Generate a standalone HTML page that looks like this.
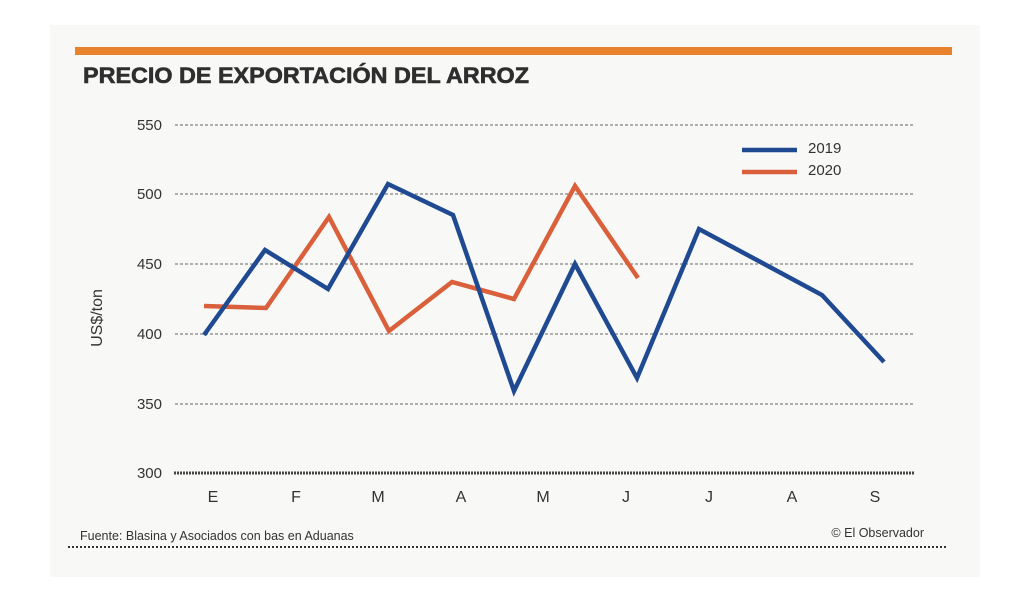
<!DOCTYPE html>
<html><head><meta charset="utf-8"><style>
body{margin:0;background:#fff;}
</style></head><body>
<svg width="1024" height="597" xmlns="http://www.w3.org/2000/svg" font-family="Liberation Sans, sans-serif">
<rect x="50" y="25" width="930" height="552" fill="#f8f8f7"/>
<rect x="75" y="47" width="877" height="8" fill="#e8822c"/>
<text x="83" y="83" font-size="22" font-weight="bold" fill="#2e2e2e" textLength="446" lengthAdjust="spacingAndGlyphs" stroke="#2e2e2e" stroke-width="0.6">PRECIO DE EXPORTACIÓN DEL ARROZ</text>
<g stroke="#666" stroke-width="1" stroke-dasharray="3,2">
<line x1="175" y1="125" x2="915" y2="125"/>
<line x1="175" y1="194" x2="915" y2="194"/>
<line x1="175" y1="264" x2="915" y2="264"/>
<line x1="175" y1="334" x2="915" y2="334"/>
<line x1="175" y1="404" x2="915" y2="404"/>
</g>
<line x1="174" y1="473" x2="915" y2="473" stroke="#444" stroke-width="3" stroke-dasharray="2,1"/>
<g font-size="15" fill="#333" text-anchor="end">
<text x="162" y="130">550</text><text x="162" y="199">500</text><text x="162" y="269">450</text>
<text x="162" y="339">400</text><text x="162" y="409">350</text><text x="162" y="478">300</text>
</g>
<text transform="translate(102,318) rotate(-90)" font-size="16" fill="#333" text-anchor="middle">US$/ton</text>
<g font-size="16" fill="#333" text-anchor="middle">
<text x="213" y="502">E</text><text x="296" y="502">F</text><text x="378" y="502">M</text>
<text x="461" y="502">A</text><text x="543" y="502">M</text><text x="626" y="502">J</text>
<text x="709" y="502">J</text><text x="792" y="502">A</text><text x="875" y="502">S</text>
</g>
<polyline fill="none" stroke="#d9603a" stroke-width="4.5" stroke-linejoin="miter" points="204,306 266,308 329,217 389,331 452,282 514,299 575,186 638,278"/>
<polyline fill="none" stroke="#1f4a91" stroke-width="4.5" stroke-linejoin="miter" points="204,335 265,250 328,289 388,184 453,215 514,391 575,264 637,378 699,229 822,295 884,362"/>
<line x1="742" y1="150" x2="797" y2="150" stroke="#1f4a91" stroke-width="4.5"/>
<line x1="742" y1="172" x2="797" y2="172" stroke="#d9603a" stroke-width="4.5"/>
<text x="808" y="153" font-size="15" fill="#333">2019</text>
<text x="808" y="175" font-size="15" fill="#333">2020</text>
<text x="80" y="540" font-size="12.5" fill="#333">Fuente: Blasina y Asociados con bas en Aduanas</text>
<text x="924" y="537" font-size="12.5" fill="#333" text-anchor="end">© El Observador</text>
<line x1="68" y1="547" x2="948" y2="547" stroke="#333" stroke-width="2" stroke-dasharray="2,2"/>
</svg>
</body></html>
